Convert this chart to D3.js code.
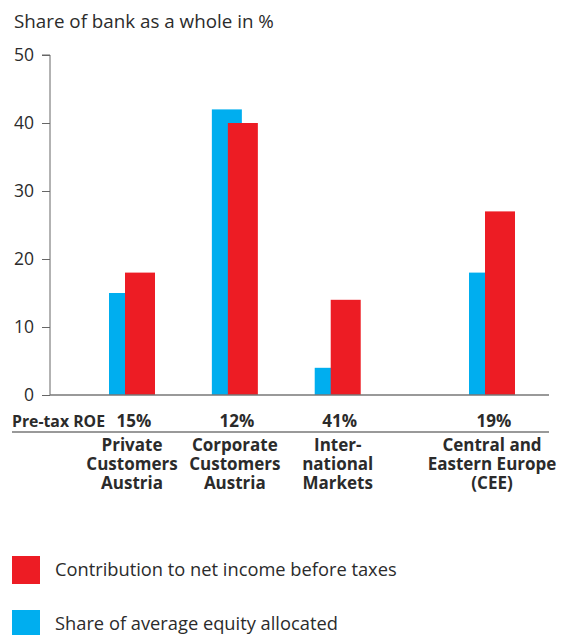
<!DOCTYPE html>
<html>
<head>
<meta charset="utf-8">
<script src="https://cdn.jsdelivr.net/npm/d3@7"></script>
<style>
  body { margin: 0; background: #fff; }
  svg { display: block; }
  text { font-family: "Open Sans", "Liberation Sans", sans-serif; fill: #2b2b2b; }
</style>
</head>
<body>
<script>
// segments of the bank, with their labels split over lines
const segments = ['Private Customers Austria', 'Corporate Customers Austria', 'International Markets', 'Central and Eastern Europe (CEE)'];
const segmentLines = [
    ['Private', 'Customers', 'Austria'],
    ['Corporate', 'Customers', 'Austria'],
    ['Inter-', 'national', 'Markets'],
    ['Central and', 'Eastern Europe', '(CEE)']
];
const equityShare = [15, 42, 4, 18];      // share of average equity allocated
const incomeShare = [18, 40, 14, 27];     // contribution to net income before taxes
const preTaxROE = ['15%', '12%', '41%', '19%'];
const yTicks = [0, 10, 20, 30, 40, 50];

const red = '#ed1c24', blue = '#00aeef';

const width = 561, height = 635;

const svg = d3.select('body').append('svg')
    .attr('width', width)
    .attr('height', height);

const y = d3.scaleLinear().domain([0, 50]).range([395, 55]);

// CEE sits a bit further away from the others
const slot = i => i < 3 ? i : i + 0.5;
const x = d3.scaleLinear().domain([0, 3.5]).range([132, 492]);

const barW = 30, offset = 16;

svg.append('text')
    .attr('x', 14)
    .attr('y', 28)
    .style('font-size', '18.8px')
    .text('Share of bank as a whole in %');

// y axis
const yAxis = svg.append('g')
    .attr('transform', 'translate(50,0)')
    .call(d3.axisLeft(y).tickValues(yTicks).tickSize(8).tickPadding(8));
yAxis.select('.domain').attr('stroke', '#666').attr('d', `M-8,${y(50)}H0V${y(0)}`);
yAxis.selectAll('.tick line').attr('stroke', '#666');
yAxis.selectAll('.tick text')
    .style('font-size', '17.5px')
    .attr('fill', '#2b2b2b')
    .style('font-family', '"Open Sans", sans-serif');

// blue bars first, red bars overlap them
svg.append('g')
    .selectAll('rect')
    .data(equityShare)
    .join('rect')
    .attr('x', (d, i) => x(slot(i)) - (barW + offset) / 2)
    .attr('y', d => y(d))
    .attr('width', barW)
    .attr('height', d => y(0) - y(d))
    .attr('fill', blue);

svg.append('g')
    .selectAll('rect')
    .data(incomeShare)
    .join('rect')
    .attr('x', (d, i) => x(slot(i)) - (barW + offset) / 2 + offset)
    .attr('y', d => y(d))
    .attr('width', barW)
    .attr('height', d => y(0) - y(d))
    .attr('fill', red);

// baseline
svg.append('line')
    .attr('x1', 50).attr('x2', 549)
    .attr('y1', y(0)).attr('y2', y(0))
    .attr('stroke', '#777').attr('stroke-width', 1.5);

// ROE row
svg.append('text')
    .attr('x', 12)
    .attr('y', 427)
    .style('font-size', '15.8px')
    .style('font-weight', 'bold')
    .text('Pre-tax ROE');

svg.append('g')
    .selectAll('text')
    .data(preTaxROE)
    .join('text')
    .attr('x', (d, i) => x(slot(i)) + 2)
    .attr('y', 427)
    .attr('text-anchor', 'middle')
    .style('font-size', '17px')
    .style('font-weight', 'bold')
    .text(d => d);

svg.append('line')
    .attr('x1', 12).attr('x2', 549)
    .attr('y1', 432).attr('y2', 432)
    .attr('stroke', '#777').attr('stroke-width', 1.5);

// category labels
svg.append('g')
    .selectAll('text')
    .data(segmentLines)
    .join('text')
    .attr('text-anchor', 'middle')
    .style('font-size', '17px')
    .style('font-weight', 'bold')
    .each(function (lines, i) {
        d3.select(this).selectAll('tspan')
            .data(lines)
            .join('tspan')
            .attr('x', x(slot(i)))
            .attr('y', (l, j) => 451 + j * 19)
            .text(l => l);
    });

// legend
const legend = [
    { label: 'Contribution to net income before taxes', color: red },
    { label: 'Share of average equity allocated', color: blue }
];
const lg = svg.append('g')
    .selectAll('g')
    .data(legend)
    .join('g')
    .attr('transform', (d, i) => `translate(12,${556 + i * 54})`);
lg.append('rect')
    .attr('width', 28).attr('height', 28)
    .attr('fill', d => d.color);
lg.append('text')
    .attr('x', 43)
    .attr('y', 20)
    .style('font-size', '18.3px')
    .text(d => d.label);
</script>
</body>
</html>
